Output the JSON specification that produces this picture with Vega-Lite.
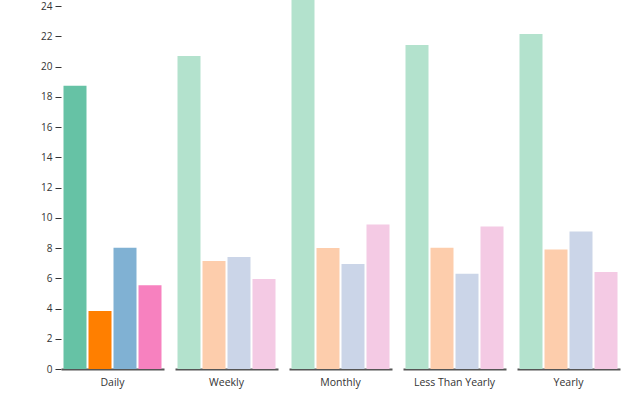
{
  "$schema": "https://vega.github.io/schema/vega-lite/v6.json",
  "autosize": {"type": "pad"},
  "padding": {"left": 40, "top": 0, "right": 18, "bottom": 5},
  "data": {
    "values": [
      {"frequency": "Daily", "series": "S1", "value": 18.73},
      {"frequency": "Daily", "series": "S2", "value": 3.83},
      {"frequency": "Daily", "series": "S3", "value": 8.02},
      {"frequency": "Daily", "series": "S4", "value": 5.53},
      {"frequency": "Weekly", "series": "S1", "value": 20.69},
      {"frequency": "Weekly", "series": "S2", "value": 7.14},
      {"frequency": "Weekly", "series": "S3", "value": 7.4},
      {"frequency": "Weekly", "series": "S4", "value": 5.95},
      {"frequency": "Monthly", "series": "S1", "value": 26},
      {"frequency": "Monthly", "series": "S2", "value": 8.0},
      {"frequency": "Monthly", "series": "S3", "value": 6.94},
      {"frequency": "Monthly", "series": "S4", "value": 9.56},
      {"frequency": "Less Than Yearly", "series": "S1", "value": 21.42},
      {"frequency": "Less Than Yearly", "series": "S2", "value": 8.02},
      {"frequency": "Less Than Yearly", "series": "S3", "value": 6.3},
      {"frequency": "Less Than Yearly", "series": "S4", "value": 9.43},
      {"frequency": "Yearly", "series": "S1", "value": 22.15},
      {"frequency": "Yearly", "series": "S2", "value": 7.91},
      {"frequency": "Yearly", "series": "S3", "value": 9.1},
      {"frequency": "Yearly", "series": "S4", "value": 6.41}
    ]
  },
  "facet": {
    "column": {
      "field": "frequency",
      "type": "nominal",
      "sort": ["Daily", "Weekly", "Monthly", "Less Than Yearly", "Yearly"],
      "header": {
        "title": null,
        "labelOrient": "bottom",
        "labelFont": "Open Sans",
        "labelFontSize": 10.5,
        "labelColor": "#333",
        "labelPadding": 9
      }
    }
  },
  "spacing": 11,
  "spec": {
    "width": 103,
    "height": 369,
    "encoding": {
      "x": {
        "field": "series",
        "type": "nominal",
        "scale": {"paddingInner": 0.08, "paddingOuter": 0.1},
        "axis": {"labels": false, "ticks": false, "title": null, "domainColor": "#555", "domainWidth": 2}
      },
      "y": {
        "field": "value",
        "type": "quantitative",
        "scale": {"domain": [0, 24.4], "nice": false},
        "axis": {
          "values": [0, 2, 4, 6, 8, 10, 12, 14, 16, 18, 20, 22, 24],
          "title": null,
          "grid": false,
          "domain": false,
          "tickColor": "#333",
          "tickSize": 6,
          "labelPadding": 3,
          "labelFont": "Open Sans",
          "labelFontSize": 10,
          "labelColor": "#333"
        }
      }
    },
    "layer": [
      {
        "transform": [{"filter": "datum.frequency === 'Daily'"}],
        "mark": {"type": "bar", "clip": true},
        "encoding": {
          "color": {"field": "series", "type": "nominal", "legend": null,
            "scale": {"range": ["#66c2a5", "#ff7f00", "#80b1d3", "#f781bf"]}}
        }
      },
      {
        "transform": [{"filter": "datum.frequency !== 'Daily'"}],
        "mark": {"type": "bar", "clip": true},
        "encoding": {
          "color": {"field": "series", "type": "nominal", "legend": null,
            "scale": {"range": ["#b3e2cd", "#fdcdac", "#cbd5e8", "#f4cae4"]}}
        }
      }
    ],
    "resolve": {"scale": {"color": "independent"}}
  },
  "config": {"view": {"stroke": null}}
}
